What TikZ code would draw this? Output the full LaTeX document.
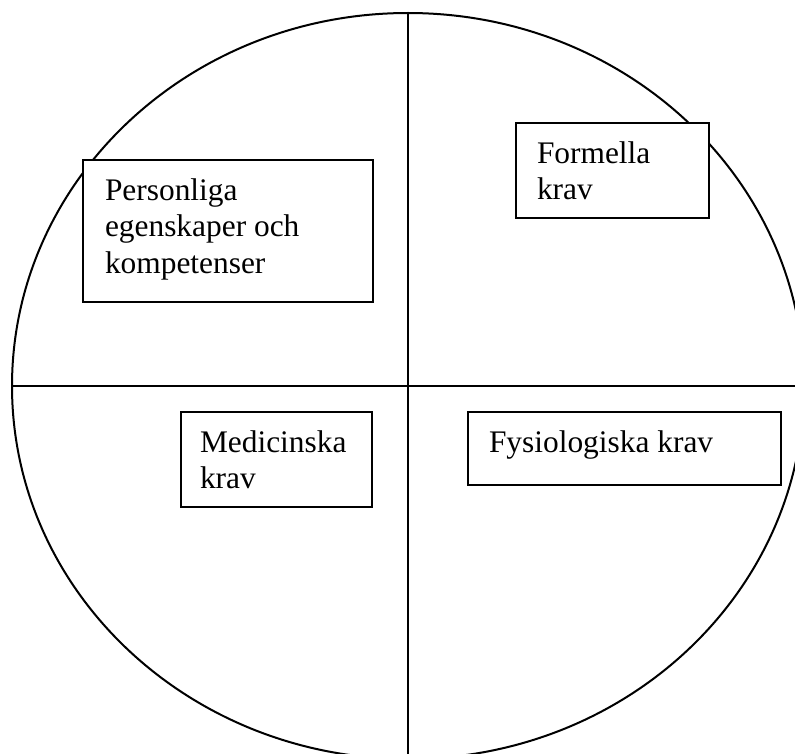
\documentclass[tikz,border=0pt]{standalone}
\usepackage{fontspec}
\setmainfont{Liberation Serif}
\usetikzlibrary{shapes.geometric}

\begin{document}
\begin{tikzpicture}[x=1pt, y=-1pt, line width=2pt,
    felt/.style={draw, fill=white, inner sep=0pt},
    txt/.style={anchor=north west, inner sep=0pt, align=left,
        font=\fontsize{31.4}{36.5}\selectfont}]
    \useasboundingbox (0,0) rectangle (795,754);
    \node[ellipse, draw, inner sep=0pt,
        minimum width=792pt, minimum height=746pt](ring) at (408,386) {};
    \draw (ring.north) -- (ring.south);
    \draw (ring.west) -- (ring.east);

    \node[felt, minimum width=290pt, minimum height=142pt](pers)  at (228,231)     {};
    \node[felt, minimum width=193pt, minimum height=95pt](form)   at (612.5,170.5) {};
    \node[felt, minimum width=191pt, minimum height=95pt](med)    at (276.5,459.5) {};
    \node[felt, minimum width=313pt, minimum height=73pt](fys)    at (624.5,448.5) {};

    \node[txt](perstxt) at ([shift={(22,14.5)}]pers.north west) {\strut Personliga\\egenskaper och\\kompetenser};
    \node[txt](formtxt) at ([shift={(21,14.5)}]form.north west) {\strut Formella\\krav};
    \node[txt](medtxt)  at ([shift={(19,14.5)}]med.north west)  {\strut Medicinska\\krav};
    \node[txt](fystxt)  at ([shift={(21,14.5)}]fys.north west)  {\strut Fysiologiska krav};
\end{tikzpicture}
\end{document}
